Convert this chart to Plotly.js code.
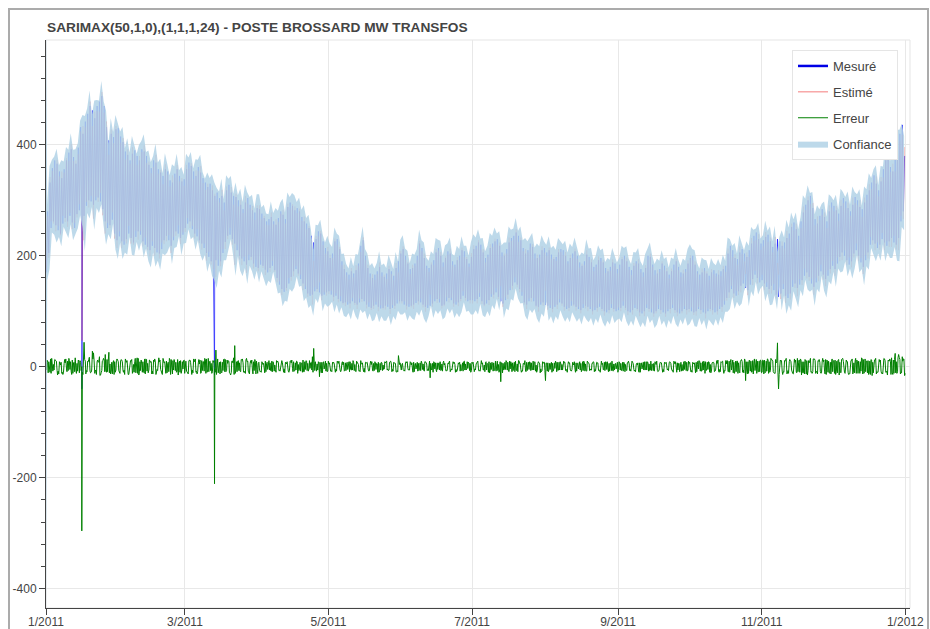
<!DOCTYPE html>
<html><head><meta charset="utf-8">
<script src="https://cdn.plot.ly/plotly-3.0.1.min.js"></script>
<style>
html,body{margin:0;padding:0;background:#fff;}
#chart{width:930px;height:629px;}
#frame{position:absolute;left:8px;top:8px;width:921px;height:700px;border:2px solid #ababab;box-sizing:border-box;pointer-events:none;}
</style>
</head><body><div id="chart"></div><div id="frame"></div>
<script>
// Daily peak (17:00) and trough (04:00) of the measured load, MW, Jan 1 .. Dec 31 2011
const mesHi = [
280,332,358,372,366,352,340,356,372,386,392,378,366,395,432,420,442,456,470,462,448,470,478,488,470,432,408,420,414,428,430,
415,405,388,382,372,384,390,380,372,392,388,380,364,358,372,368,356,350,344,356,352,336,332,348,356,344,334,338,
356,368,362,352,344,360,350,340,332,324,330,318,308,314,304,308,296,318,328,314,308,306,300,292,284,296,304,292,282,278,286,
284,276,268,262,266,270,262,256,268,280,274,266,288,296,290,282,286,280,270,262,258,250,236,224,230,244,240,226,214,208,
196,204,226,230,212,190,176,170,166,172,168,174,186,218,228,200,178,168,160,166,172,180,170,162,168,176,172,164,178,190,204,
212,200,186,176,178,186,200,222,214,196,182,178,184,192,206,214,200,188,196,208,204,190,184,192,200,210,208,194,186,198,
212,218,224,220,206,196,202,214,222,226,230,218,206,200,212,224,232,236,242,236,228,214,204,210,222,216,204,196,202,210,214,
206,210,202,194,198,206,212,210,200,190,196,204,208,200,188,182,190,202,198,188,180,184,192,196,188,178,172,180,188,186,176,
184,194,200,190,180,174,182,190,186,176,170,178,200,198,184,174,168,176,186,182,172,166,172,184,190,180,170,168,176,186,
196,200,184,172,166,170,178,168,164,170,174,168,166,172,176,182,204,218,210,196,194,206,212,204,198,210,222,236,242,230,222,
228,234,238,226,216,222,230,226,218,224,232,240,252,260,248,236,262,278,292,300,308,286,266,258,272,284,270,262,280,296,
290,282,276,290,304,298,286,280,292,306,300,288,284,296,310,318,332,345,330,318,334,356,372,386,360,352,376,398,420,436,380
];
const mesLo = [
170,205,250,262,255,246,240,258,268,262,272,260,250,275,282,272,272,290,300,298,292,300,305,298,284,262,250,255,265,240,228,
235,226,220,230,240,232,224,234,244,238,226,220,216,210,218,214,206,204,212,228,236,228,218,228,244,240,232,238,
250,258,262,248,240,235,228,222,214,205,198,190,184,192,182,190,205,225,236,238,230,222,210,200,195,190,184,192,198,186,180,
178,184,182,175,170,178,182,174,160,148,140,135,142,150,162,172,176,168,158,150,140,132,128,130,136,140,134,128,130,134,
136,130,126,128,122,118,115,116,112,114,118,115,112,116,122,118,112,108,106,110,112,108,105,106,110,108,104,106,110,114,118,
118,112,110,108,110,112,115,118,116,112,108,106,110,114,118,122,116,110,112,118,124,120,114,112,116,122,128,124,118,120,
120,118,122,126,118,112,114,120,126,130,134,126,118,114,120,130,138,146,152,148,140,128,116,112,118,124,118,110,108,112,116,
112,110,106,104,108,112,116,114,108,104,106,110,112,108,104,102,106,110,108,104,100,102,106,108,104,100,98,102,106,104,100,
102,106,110,106,100,98,102,106,104,98,96,100,106,104,98,96,100,104,102,98,96,100,104,106,102,98,96,100,104,102,
104,100,98,100,104,102,98,96,100,104,102,98,100,104,108,112,124,134,140,132,128,136,146,150,142,138,148,158,166,160,152,
156,150,144,140,146,138,130,126,132,140,128,124,132,144,150,142,148,156,164,170,162,150,144,152,164,172,166,158,164,176,
182,176,186,198,206,200,192,184,190,204,210,200,188,180,192,206,220,228,222,214,220,230,224,218,226,232,224,220,232,262,280
];
// Model error (measured - estimated), MW, at 04:00 (trough), 10:00, 17:00 (peak) and 22:00 each day
const errLo = [
-6,9,-12,4,11,-8,3,-14,7,10,-5,12,-9,6,-11,0,44,-7,13,-10,25,-6,8,-15,11,22,-9,5,-13,9,14,
-9,12,-6,8,-14,10,4,-11,15,-7,9,-13,6,11,-8,14,-5,9,-12,7,10,-9,13,-6,8,-15,11,-4,
7,-10,12,-6,9,-13,5,11,-8,14,-9,6,8,30,-11,9,-7,13,6,-12,10,38,-9,7,12,-8,15,-10,6,9,-13,
6,-8,4,10,-5,7,-9,3,8,-6,11,-4,5,-10,7,9,-6,4,-8,12,-5,6,-3,18,-7,5,-18,8,-4,6,
5,-7,8,-4,6,-9,3,7,-5,9,-6,4,8,-7,5,-3,7,-8,4,6,-5,8,-6,3,7,-4,9,-5,6,-7,4,
4,-6,7,-5,3,8,-4,6,-7,5,9,-5,-20,6,-4,7,-6,5,3,-7,8,-4,6,-5,7,4,-8,5,-3,6,
6,-4,8,-7,5,3,-6,9,-5,7,-8,4,-27,6,-5,8,-4,7,-9,5,6,-7,4,8,-5,7,-6,3,9,-4,6,
-25,7,-5,6,-3,8,-6,4,7,-5,6,-8,3,7,-4,6,-7,5,8,-4,6,-5,7,-6,4,8,-5,6,-7,5,-4,
-5,6,-8,4,7,-5,8,-6,3,7,-4,9,-6,5,-7,6,4,-8,7,-5,6,-4,8,-6,5,7,-9,4,-5,8,
6,-7,5,8,-4,7,-6,9,-5,4,8,-8,6,-5,9,-7,5,10,-6,8,-9,7,12,-6,-25,9,-8,11,-7,10,-9,
-10,12,-8,9,14,-11,7,-40,10,-9,13,-7,11,-12,8,15,-10,9,-13,11,7,-9,14,-8,10,-12,9,13,-10,8,
-9,12,-11,8,14,-10,9,-13,11,7,-12,10,-8,13,-9,11,-14,8,12,-10,9,-11,14,-8,10,16,-12,9,22,-10,14
];
const errMid = [
12,-9,15,-6,10,-13,8,-11,14,-7,9,-12,16,-8,11,-10,13,-9,17,-6,12,-14,9,-11,15,-8,10,-13,7,-10,12,
-12,9,-14,11,-8,13,-10,7,-15,12,-9,14,-11,8,-13,10,-7,12,-14,9,-11,15,-8,13,-10,7,-12,11,
10,-13,8,-11,14,-9,12,-7,15,-10,9,-12,11,-14,8,-10,13,-9,11,-15,7,-12,10,-8,14,-11,9,-13,12,-7,10,
8,-10,6,-9,11,-7,9,-5,10,-8,7,-11,9,-6,12,-8,10,-7,6,-9,11,-8,7,-10,9,-6,8,-11,7,-9,
7,-9,6,-8,10,-6,8,-7,9,-5,11,-8,6,-9,7,-10,8,-6,9,-7,6,-10,8,-5,9,-7,10,-8,6,-9,7,
6,-8,9,-6,7,-9,5,-7,10,-6,8,-7,6,-10,7,-5,9,-8,6,-7,10,-6,8,-9,5,-7,9,-6,8,-10,
8,-6,10,-8,7,-9,6,-11,8,-7,9,-10,7,-6,11,-8,9,-7,10,-9,6,-8,11,-7,9,-6,8,-10,7,-9,8,
7,-9,6,-8,10,-7,9,-6,8,-10,7,-5,9,-8,6,-9,10,-7,8,-6,9,-8,7,-10,6,-7,9,-8,10,-6,7,
9,-7,8,-6,10,-8,6,-9,7,-10,8,-6,9,-7,5,-8,10,-6,7,-9,8,-7,6,-10,9,-6,8,-7,10,-8,
8,-10,7,-9,11,-8,10,-7,9,-11,8,-6,12,-9,10,-8,11,-10,9,-12,10,-8,13,-11,9,-12,10,-13,11,-9,12,
12,-11,14,-10,13,-12,9,-14,11,-10,15,-12,10,-13,12,-9,14,-11,13,-15,10,-12,14,-9,13,-11,12,-14,10,-13,
11,-14,12,-10,15,-12,9,-13,14,-11,12,-9,16,-12,10,-14,13,-11,15,-10,12,-13,11,-15,14,-10,13,-12,17,-11,14
];
const errHi = [
8,-10,5,13,-7,9,-12,6,-4,15,-9,7,-6,12,8,-14,10,10,-8,28,-12,9,18,-7,12,-10,26,-8,11,-6,9,
11,-7,14,-10,6,-12,9,16,-8,5,-11,13,-6,9,12,-14,8,-5,15,-9,6,11,-13,7,-8,10,-6,12,
-8,11,-5,14,-10,7,-12,9,13,-6,10,-9,-4,12,8,-11,14,-7,9,-10,16,-6,11,-9,7,-12,10,6,-8,13,-5,
-7,9,-4,6,11,-8,5,-10,7,4,-9,8,-6,10,-3,-7,9,-5,7,-9,10,-4,8,33,-6,9,-5,7,10,-8,
-6,8,-5,10,-4,7,-8,5,9,-6,7,-9,4,11,-5,8,-6,6,-7,9,5,-8,7,-4,10,-6,5,8,-9,20,-5,
-5,7,-3,9,-6,4,8,-5,6,-8,5,7,-4,9,-6,5,-7,8,-3,6,-9,7,4,-6,8,-5,10,-4,6,-7,
-7,5,-4,9,-6,8,4,-7,6,-5,10,-6,7,-4,8,-9,5,7,-6,11,-5,6,-8,4,7,-5,9,-6,5,-7,8,
6,-5,8,-4,7,-6,5,9,-7,4,-6,8,-5,6,9,-4,7,-8,5,-6,8,4,-7,6,-5,9,-4,7,-6,5,8,
7,-4,6,-7,5,9,-5,4,-8,6,8,-5,7,-6,4,9,-7,5,-4,8,-6,7,-5,10,-4,6,8,-7,5,-6,
-5,8,-6,4,9,-7,5,-4,8,-6,7,5,-8,9,-6,11,-9,8,12,-7,10,-11,9,14,-8,12,-10,9,13,-9,11,
11,-9,13,-7,10,-12,43,12,-8,11,-13,9,-6,14,-10,8,12,-11,9,-7,15,-9,11,-13,8,10,-8,12,-11,9,
10,-8,13,-11,9,12,-10,8,-13,11,9,-12,14,-9,10,-11,12,9,-13,11,-8,15,-10,12,9,-14,24,-9,13,18,-16
];
const errEve = [
-11,14,-8,12,-15,7,-10,13,-9,11,-14,8,-12,10,-7,15,-13,9,-11,14,-8,12,-16,10,-9,13,-11,8,-14,11,-7,
13,-10,8,-14,11,-7,15,-12,9,-10,14,-8,12,-13,9,-11,16,-9,10,-12,8,-14,11,-7,13,-10,9,-12,
-9,12,-14,10,-8,13,-11,9,-12,15,-7,11,-10,14,-13,8,-9,12,-11,10,-14,9,-7,13,-10,12,-8,11,-13,9,-12,
-9,7,-11,8,-6,10,-8,11,-7,9,-10,6,-8,11,-9,7,-12,8,-10,9,-7,11,-6,10,-8,7,-11,9,-8,10,
-8,6,-10,7,-6,9,-7,8,-9,6,-7,10,-8,5,-9,7,-6,10,-8,7,-10,6,-7,9,-6,8,-9,7,-10,8,-6,
-7,9,-6,8,-10,6,-8,7,-5,9,-7,10,-6,8,-9,7,-6,10,-8,5,-7,9,-10,6,-8,7,-6,9,-7,8,
-9,7,-8,11,-6,9,-10,7,-8,10,-7,9,-11,8,-6,10,-9,8,-7,11,-10,6,-9,8,-7,10,-8,6,-11,9,-7,
-8,6,-10,7,-9,8,-6,10,-7,9,-8,6,-10,7,-6,9,-8,10,-7,6,-9,8,-7,10,-6,8,-9,7,-8,6,-10,
-6,8,-9,7,-7,10,-8,6,-10,7,-6,9,-8,10,-7,6,-9,8,-10,7,-6,9,-7,8,-10,6,-8,9,-7,10,
-9,7,-11,10,-8,9,-12,8,-10,7,-9,11,-10,8,-12,11,-9,13,-11,10,-12,9,-10,12,-13,11,-9,14,-12,10,-11,
-13,10,-12,15,-9,13,-11,12,-14,10,-12,13,-10,14,-11,12,-15,9,-13,11,-10,14,-12,11,-9,15,-13,10,-12,14,
-12,10,-15,13,-9,12,-14,11,-10,15,-12,9,-13,14,-11,10,-16,12,-9,13,-12,15,-10,11,-14,12,-11,16,-13,10,-12
];
// Short outages of the measurement (measured value and model estimate at that hour)
const outageTimes = ['2011-01-16 05:00', '2011-01-16 07:00', '2011-03-13 14:00'];
const outageMeasured = [-40, -38, -15];
const outageEstimated = [256, 47, 196];
// Confidence band half-width and the wide first value of the band
const confHalf = 20;
const confStartUpper = 650;
const confStartLower = -480;
// Axis ticks
const tickDates = ['2011-01-01','2011-03-01','2011-05-01','2011-07-01','2011-09-01','2011-11-01','2012-01-01'];
const tickLabels = ['1/2011','3/2011','5/2011','7/2011','9/2011','11/2011','1/2012'];
const yTickVals = [-400, -200, 0, 200, 400];
const yTickLabels = ['-400', '-200', '0', '200', '400'];

function stamp(d, hh) {
  const dt = new Date(Date.UTC(2011, 0, 1 + d, hh));
  return dt.toISOString().slice(0, 16).replace('T', ' ');
}
const byTime = (a, b) => a.t < b.t ? -1 : a.t > b.t ? 1 : 0;
const pts = [], epts = [];
for (let d = 0; d < mesHi.length; d++) {
  pts.push({t: stamp(d, 4), m: mesLo[d], e: errLo[d]});
  pts.push({t: stamp(d, 17), m: mesHi[d], e: errHi[d]});
  epts.push({t: stamp(d, 4), e: errLo[d]});
  epts.push({t: stamp(d, 10), e: errMid[d]});
  epts.push({t: stamp(d, 17), e: errHi[d]});
  epts.push({t: stamp(d, 22), e: errEve[d]});
}
outageTimes.forEach((t, i) => {
  const e = outageMeasured[i] - outageEstimated[i];
  pts.push({t: t, m: outageMeasured[i], e: e});
  epts.push({t: t, e: e});
});
pts.sort(byTime); epts.sort(byTime);
const tx = pts.map(p => p.t);
const ym = pts.map(p => p.m);
const yest = pts.map(p => p.m - p.e);
const ex = epts.map(p => p.t);
const ey = epts.map(p => p.e);

const bx = ['2011-01-01 00:00'], bu = [confStartUpper], bl = [confStartLower];
for (let d = 0; d < mesHi.length; d++) {
  const a = mesHi[d] - errHi[d], b = mesLo[d] - errLo[d];
  bx.push(stamp(d, 12));
  bu.push(Math.max(a, b) + confHalf);
  bl.push(Math.min(a, b) - confHalf);
}

const FONT = 'Liberation Sans, Arial, Helvetica, sans-serif';
const bandColor = 'rgba(178,210,230,0.85)';
const data = [
  {type:'scatter', mode:'lines', x:tx, y:ym, line:{color:'rgb(0,0,255)', width:0.7}, opacity:0.9, showlegend:false, hoverinfo:'skip'},
  {type:'scatter', mode:'lines', x:tx, y:yest, line:{color:'rgb(255,60,60)', width:0.6}, opacity:0.5, showlegend:false, hoverinfo:'skip'},
  {type:'scatter', mode:'lines', x:ex, y:ey, line:{color:'rgb(0,128,0)', width:1}, showlegend:false, hoverinfo:'skip'},
  {type:'scatter', mode:'lines', x:[null], y:[null], name:'Mesuré', legendgroup:'a', line:{color:'rgb(0,0,230)', width:2.5}},
  {type:'scatter', mode:'lines', x:[null], y:[null], name:'Estimé', legendgroup:'b', line:{color:'rgba(240,90,90,0.8)', width:1}},
  {type:'scatter', mode:'lines', x:[null], y:[null], name:'Erreur', legendgroup:'c', line:{color:'rgb(0,128,0)', width:1}},
  {type:'scatter', mode:'lines', x:bx, y:bl, line:{width:0, color:bandColor}, showlegend:false, hoverinfo:'skip'},
  {type:'scatter', mode:'lines', x:bx, y:bu, name:'Confiance', legendgroup:'d', fill:'tonexty', fillcolor:bandColor, line:{width:0, color:bandColor}, hoverinfo:'skip'}
];

const layout = {
  width:930, height:629,
  margin:{l:46, r:20, t:40, b:21},
  paper_bgcolor:'#fff', plot_bgcolor:'#fff',
  font:{family:FONT, color:'#444', size:12},
  title:{text:'SARIMAX(50,1,0),(1,1,1,24) - POSTE BROSSARD MW TRANSFOS', x:47/930, xref:'container', xanchor:'left', y:1-27/629, yref:'container', yanchor:'middle', font:{family:FONT, size:13.7, weight:'bold', color:'#444'}},
  xaxis:{type:'date', range:['2011-01-01 00:00','2012-01-03 00:00'], tickmode:'array', tickvals:tickDates, ticktext:tickLabels,
    showgrid:true, gridcolor:'#e8e8e8', gridwidth:1, zeroline:false, showline:true, linecolor:'#444', linewidth:1,
    ticks:'outside', ticklen:6, tickcolor:'#444', tickfont:{size:12, color:'#444'}, ticklabelstandoff:-3, automargin:false},
  yaxis:{range:[-435, 589], tickmode:'array', tickvals:yTickVals, ticktext:yTickLabels,
    showgrid:true, gridcolor:'#e8e8e8', gridwidth:1, zeroline:false, showline:true, linecolor:'#444', linewidth:1,
    ticks:'outside', ticklen:6, tickcolor:'#444', tickfont:{size:12, color:'#444'}, automargin:false,
    minor:{tickmode:'linear', tick0:0, dtick:40, ticks:'outside', ticklen:4, tickcolor:'#444', showgrid:false}},
  legend:{x:(792-46)/864, y:1-(50-40)/568, xanchor:'left', yanchor:'top', bgcolor:'#fff', bordercolor:'#e5e5e5', borderwidth:1,
    font:{family:FONT, size:13, color:'#444'}, tracegroupgap:6, itemwidth:30},
  shapes:[{type:'rect', xref:'paper', yref:'paper', x0:0, x1:1, y0:0, y1:1, line:{color:'#e5e5e5', width:1}, layer:'below'}],
  showlegend:true
};
Plotly.newPlot('chart', data, layout, {displayModeBar:false, staticPlot:true});
</script>
</body></html>
